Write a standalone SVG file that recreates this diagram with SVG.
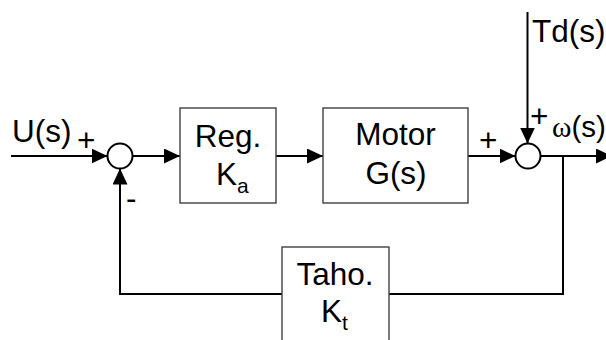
<svg xmlns="http://www.w3.org/2000/svg" width="606" height="340" viewBox="0 0 606 340">
<style>
.t{font-family:"Liberation Sans",Arial,sans-serif;font-size:31.5px;fill:#000}
.sub{font-family:"Liberation Sans",Arial,sans-serif;font-size:21px;fill:#000}
.box{fill:#fff;stroke:#404040;stroke-width:1.4}
.sum{fill:#fff;stroke:#000;stroke-width:2}
.ln{fill:none;stroke:#000;stroke-width:2}
</style>
<defs>
<marker id="ah" markerUnits="userSpaceOnUse" markerWidth="17" markerHeight="16" refX="16" refY="7.5" orient="auto">
<path d="M0,0 L16,7.5 L0,15 z" fill="#000"/>
</marker>
</defs>
<rect width="606" height="340" fill="#fff"/>
<g id="connectors">
<line class="ln" x1="11" y1="156" x2="107.5" y2="156" marker-end="url(#ah)"/>
<line class="ln" x1="132.5" y1="156" x2="180" y2="156" marker-end="url(#ah)"/>
<line class="ln" x1="276" y1="156" x2="323" y2="156" marker-end="url(#ah)"/>
<line class="ln" x1="468" y1="156" x2="515.5" y2="156" marker-end="url(#ah)"/>
<line class="ln" x1="540.5" y1="156" x2="612" y2="156" marker-end="url(#ah)"/>
<line class="ln" x1="527.5" y1="12" x2="527.5" y2="143.5" marker-end="url(#ah)"/>
<polyline class="ln" points="563,156 563,294 389,294"/>
<polyline class="ln" points="282,294 120,294 120,168.5" marker-end="url(#ah)"/>
</g>
<g id="sum1"><circle class="sum" cx="120" cy="156" r="12.5"/></g>
<g id="sum2"><circle class="sum" cx="528" cy="156" r="12.5"/></g>
<g id="reg">
<rect class="box" x="180" y="108" width="96" height="95"/>
<text class="t" x="228" y="147" text-anchor="middle">Reg.</text>
<text class="t" x="216" y="185">K<tspan class="sub" dy="8">a</tspan></text>
</g>
<g id="motor">
<rect class="box" x="323" y="108" width="145" height="95"/>
<text class="t" x="395.5" y="145" text-anchor="middle">Motor</text>
<text class="t" x="396" y="184" text-anchor="middle">G(s)</text>
</g>
<g id="taho">
<rect class="box" x="282" y="247" width="107" height="100"/>
<text class="t" x="335" y="285" text-anchor="middle">Taho.</text>
<text class="t" x="321" y="322">K<tspan class="sub" dy="8">t</tspan></text>
</g>
<g id="labels">
<text class="t" x="12" y="142">U(s)</text>
<text class="t" x="532" y="42">Td(s)</text>
<text class="t" x="552" y="137" style="font-size:29.5px"><tspan font-family="'Liberation Serif',serif">ω</tspan>(s)</text>
<text class="t" x="77" y="151">+</text>
<text class="t" x="479" y="151">+</text>
<text class="t" x="530" y="127">+</text>
<text class="t" x="126" y="209">-</text>
</g>
</svg>
